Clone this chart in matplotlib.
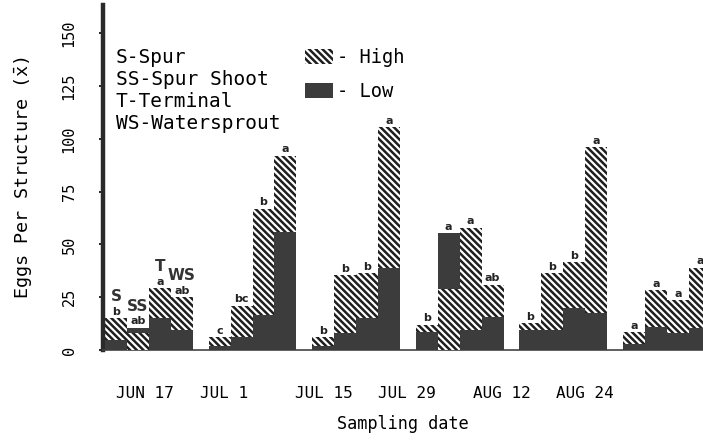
import matplotlib
matplotlib.use("Agg")
import matplotlib.pyplot as plt
from matplotlib.patches import Patch

# eggs per structure
dates = ["JUN 17", "JUL 1", "JUL 15", "JUL 29", "AUG 12", "AUG 24"]
structures = ["S", "SS", "T", "WS"]
high = [
    [15.2, 8.0, 29.4, 25.0],
    [6.0, 21.0, 67.0, 92.0],
    [6.0, 35.5, 36.5, 105.7],
    [12.0, 29.0, 58.0, 31.0],
    [12.8, 36.5, 41.7, 96.0],
    [8.5, 28.4, 23.7, 39.0],
]
low = [
    [4.7, 10.5, 15.0, 9.5],
    [2.0, 6.0, 16.6, 56.0],
    [2.0, 8.0, 15.0, 39.0],
    [8.5, 55.5, 9.5, 15.6],
    [9.5, 9.5, 20.0, 17.5],
    [3.0, 11.0, 8.0, 10.4],
]
letters = [
    ["b", "ab", "a", "ab"],
    ["c", "bc", "b", "a"],
    ["b", "b", "b", "a"],
    ["b", "a", "a", "ab"],
    ["b", "b", "b", "a"],
    ["a", "a", "a", "a"],
]
date_ticks = [0.386, 1.149, 2.114, 2.915, 3.832, 4.633]
yticks = [0, 25, 50, 75, 100, 125, 150]

DARK = "#3c3c3c"
HATCH_C = "#1e1e1e"
HATCH = "\\\\\\\\\\"
MONO = "DejaVu Sans Mono"

plt.rcParams["hatch.linewidth"] = 1.8
plt.rcParams["mathtext.fontset"] = "dejavusans"

fig = plt.figure(figsize=(7.03, 4.41), dpi=100)
ax = fig.add_axes([103 / 703, 91 / 441, 600 / 703, 345 / 441])

width = 0.212
for g in range(len(dates)):
    for k in range(len(structures)):
        x = g + k * width
        h = high[g][k]
        lo = low[g][k]
        # the shorter bar is drawn in front of the taller one
        zh, zl = (2, 3) if h >= lo else (3, 2)
        ax.bar(x, h, width, align="edge", color="white", edgecolor=HATCH_C,
               hatch=HATCH, linewidth=0, zorder=zh)
        ax.bar(x, lo, width, align="edge", color=DARK, linewidth=0, zorder=zl)
        top = max(h, lo)
        ax.annotate(letters[g][k], (x + width / 2, top), xytext=(0, 1),
                    textcoords="offset points", ha="center", va="bottom",
                    fontsize=8, fontweight="bold", color="#222")
        if g == 0:
            ax.annotate(structures[k], (x + width / 2, top), xytext=(0, 10),
                        textcoords="offset points", ha="center", va="bottom",
                        fontsize=11, fontweight="bold", color="#333")

ax.set_xlim(-2 / 103.6, 598 / 103.6)
ax.set_ylim(0, 163.5)

for s in ["top", "right"]:
    ax.spines[s].set_visible(False)
ax.spines["left"].set_linewidth(3.2)
ax.spines["left"].set_color("#2a2a2a")
ax.spines["bottom"].set_linewidth(1.2)
ax.spines["bottom"].set_color("#444")

ax.set_yticks(yticks)
ax.set_yticklabels([str(v) for v in yticks], rotation=90, va="center",
                   family=MONO, fontsize=11)
ax.tick_params(axis="y", direction="out", length=3, width=1.2, pad=16)
ax.set_xticks(date_ticks)
ax.set_xticklabels(dates, family=MONO, fontsize=11.5)
ax.tick_params(axis="x", length=0, pad=26)

ax.set_ylabel(r"Eggs Per Structure ($\mathtt{\bar{x}}$)", family=MONO,
              fontsize=13.3, labelpad=20)
ax.set_xlabel("Sampling date", family=MONO, fontsize=12.2, labelpad=10)

fig.text(116 / 703, 1 - 48 / 441,
         "S-Spur\nSS-Spur Shoot\nT-Terminal\nWS-Watersprout",
         family=MONO, fontsize=14, va="top", ha="left", linespacing=1.2)

handles = [
    Patch(facecolor="white", edgecolor=HATCH_C, hatch=HATCH, linewidth=0),
    Patch(facecolor=DARK, linewidth=0),
]
fig.legend(handles, ["- High", "- Low"], loc="upper left",
           bbox_to_anchor=(305 / 703, 1 - 48 / 441), frameon=False,
           prop={"family": MONO, "size": 13.5}, handlelength=1.5,
           handleheight=0.8, handletextpad=0.2, labelspacing=0.8,
           borderpad=0, borderaxespad=0)

fig.savefig("out.png", dpi=100)
